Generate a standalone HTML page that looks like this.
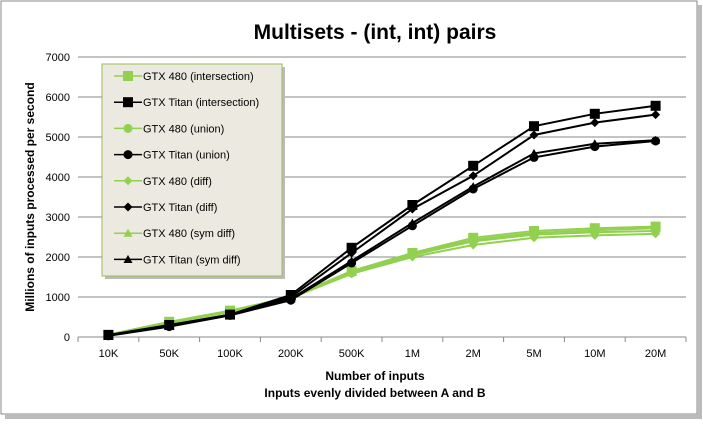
<!DOCTYPE html>
<html><head><meta charset="utf-8"><style>
body{margin:0;background:#fff;font-family:"Liberation Sans",sans-serif;}
svg text{font-family:"Liberation Sans",sans-serif;}
</style></head><body>
<svg id="chart" width="703" height="420">
<rect x="1" y="1" width="696" height="413" fill="#fff" stroke="#888"/>
<rect x="697" y="5" width="5" height="412" fill="#bbb"/>
<rect x="5" y="414" width="697" height="5" fill="#bbb"/>
<text x="375" y="39" text-anchor="middle" font-size="21" font-weight="bold">Multisets - (int, int) pairs</text>
<g id="grid"></g><g id="series"></g>
<text x="375" y="380" text-anchor="middle" font-size="12" font-weight="bold">Number of inputs</text>
<text x="375" y="397" text-anchor="middle" font-size="12" font-weight="bold">Inputs evenly divided between A and B</text>
<text transform="translate(34,197) rotate(-90)" text-anchor="middle" font-size="12" font-weight="bold">Millions of inputs processed per second</text>
<g id="legend"></g>
</svg>
<script>
const categories=["10K","50K","100K","200K","500K","1M","2M","5M","10M","20M"];
const yTicks=[0,1000,2000,3000,4000,5000,6000,7000];
const seriesNames=["GTX 480 (intersection)","GTX Titan (intersection)","GTX 480 (union)","GTX Titan (union)","GTX 480 (diff)","GTX Titan (diff)","GTX 480 (sym diff)","GTX Titan (sym diff)"];
const g480Inter=[60,380,660,1000,1650,2100,2480,2650,2720,2760];
const titanInter=[50,300,560,1050,2230,3300,4280,5270,5580,5780];
const g480Union=[60,350,630,980,1600,2050,2390,2560,2620,2650];
const titanUnion=[30,260,540,920,1850,2780,3700,4490,4760,4900];
const g480Diff=[50,350,620,970,1580,2000,2300,2480,2540,2580];
const titanDiff=[40,280,550,1000,2100,3200,4030,5050,5360,5560];
const g480Sym=[60,360,640,980,1620,2080,2430,2600,2670,2720];
const titanSym=[40,280,560,950,1900,2850,3760,4590,4830,4920];
const allSeries=[g480Inter,titanInter,g480Union,titanUnion,g480Diff,titanDiff,g480Sym,titanSym];
const markers=["square","square","circle","circle","diamond","diamond","triangle","triangle"];
const NS="http://www.w3.org/2000/svg";
const L=78,R=686,T=57,B=337;
const xs=i=>L+(R-L)/categories.length*(i+0.5);
const ys=v=>B-(v/7000)*(B-T);
function mk(tag,a,p){const e=document.createElementNS(NS,tag);for(const k in a)e.setAttribute(k,a[k]);p.appendChild(e);return e;}
const grid=document.getElementById('grid');
yTicks.forEach(v=>{
 const l=mk('line',{x1:L,x2:R,y1:ys(v),y2:ys(v),stroke:'#888','stroke-width':1},grid);
 
 
 const t=mk('text',{x:L-8,y:ys(v)+4,'text-anchor':'end','font-size':11},grid);t.textContent=v;
 
 
});
for(let i=0;i<=categories.length;i++){
 const x=L+(R-L)/categories.length*i;
 const tk=mk('line',{x1:x,x2:x,y1:B,y2:B+5,stroke:'#888'},grid);
 
 
}
categories.forEach((c,i)=>{
 const t=mk('text',{x:xs(i),y:B+20,'text-anchor':'middle','font-size':11},grid);t.textContent=c;
 
 
});
function marker(p,x,y,type,color,s){
 let e;
 if(type==='square')e=mk('rect',{x:x-s,y:y-s,width:2*s,height:2*s,fill:color},p);
 else if(type==='circle')e=mk('circle',{cx:x,cy:y,r:s,fill:color},p);
 else if(type==='diamond')e=mk('polygon',{points:`${x},${y-s} ${x+s},${y} ${x},${y+s} ${x-s},${y}`,fill:color},p);
 else e=mk('polygon',{points:`${x},${y-s} ${x+s},${y+s*0.8} ${x-s},${y+s*0.8}`,fill:color},p);
 return e;
}
const sg=document.getElementById('series');
const order=[0,2,4,6,1,3,5,7];
order.forEach(k=>{
 const d=allSeries[k];const color=k%2===0?'#92d050':'#000';
 const g=mk('g',{},sg);
 
 
 mk('polyline',{points:d.map((v,i)=>xs(i)+','+ys(v)).join(' '),fill:'none',stroke:color,'stroke-width':2},g);
 d.forEach((v,i)=>{
  const m=marker(g,xs(i),ys(v),markers[k],color,markers[k]==='square'?5:4.5);
  
  
 });
});
const lg=document.getElementById('legend');
mk('rect',{x:105,y:67,width:180,height:212,fill:'#bbb'},lg);
const box=mk('rect',{x:102,y:64,width:180,height:212,fill:'#ecead f'.replace(' ',''),stroke:'#9bbb59'},lg);
box.setAttribute('fill','#eceae0');


seriesNames.forEach((n,k)=>{
 const y=76+k*26.2;const color=k%2===0?'#92d050':'#000';
 const g=mk('g',{},lg);
 
 
 mk('line',{x1:114,x2:142,y1:y,y2:y,stroke:color,'stroke-width':1.5},g);
 marker(g,128,y,markers[k],color,markers[k]==='square'?5:4.5);
 const t=mk('text',{x:143,y:y+4,'font-size':11},g);t.textContent=n;
});
</script>
</body></html>
